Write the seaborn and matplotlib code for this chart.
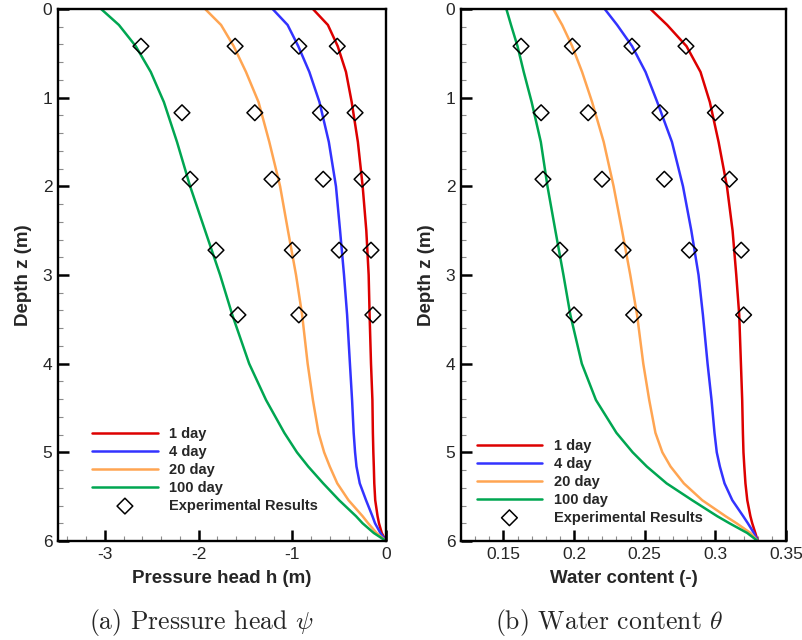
import matplotlib
matplotlib.use("Agg")
import matplotlib.pyplot as plt
from matplotlib.ticker import MultipleLocator, FuncFormatter
import seaborn as sns
import pandas as pd

# ---------------- data ----------------
series_names = ["1 day", "4 day", "20 day", "100 day"]
series_colors = ["#dd0000", "#3333ff", "#ffa552", "#00a651"]

depth = [0, 0.18, 0.42, 0.71, 1.05, 1.5, 2.0, 2.5, 3.0, 3.45, 4.0, 4.41,
         4.78, 5.0, 5.16, 5.35, 5.54, 5.72, 5.8, 5.91, 6.0]

# pressure head h (m)
h_1day = [-0.78, -0.62, -0.515, -0.427, -0.366, -0.30, -0.249, -0.21, -0.185,
          -0.175, -0.16, -0.145, -0.14, -0.135, -0.13, -0.125, -0.115, -0.09,
          -0.075, -0.045, 0.0]
h_4day = [-1.21, -1.05, -0.936, -0.818, -0.71, -0.61, -0.534, -0.49, -0.448,
          -0.415, -0.385, -0.362, -0.345, -0.33, -0.315, -0.28, -0.213, -0.145,
          -0.117, -0.06, 0.0]
h_20day = [-1.93, -1.76, -1.625, -1.494, -1.36, -1.245, -1.13, -1.046, -0.96,
           -0.895, -0.836, -0.78, -0.72, -0.66, -0.60, -0.52, -0.40, -0.25,
           -0.19, -0.10, 0.0]
h_100day = [-3.04, -2.85, -2.67, -2.51, -2.37, -2.23, -2.09, -1.93, -1.77,
            -1.64, -1.46, -1.28, -1.085, -0.95, -0.83, -0.67, -0.50, -0.32,
            -0.25, -0.13, 0.0]

# water content theta (-)
t_1day = [0.2541, 0.2659, 0.2796, 0.2895, 0.2961, 0.3023, 0.3082, 0.3122,
          0.3148, 0.3169, 0.3181, 0.3190, 0.3195, 0.3199, 0.3205, 0.3213,
          0.3226, 0.3248, 0.3261, 0.3283, 0.3300]
t_4day = [0.2217, 0.2305, 0.2411, 0.2506, 0.2589, 0.2693, 0.2771, 0.2830,
          0.2881, 0.2912, 0.2945, 0.2973, 0.2994, 0.3010, 0.3032, 0.3065,
          0.3120, 0.3197, 0.3230, 0.3273, 0.3300]
t_20day = [0.1852, 0.1916, 0.1987, 0.2057, 0.2128, 0.2210, 0.2280, 0.2340,
           0.2398, 0.2446, 0.2490, 0.2532, 0.2576, 0.2625, 0.2683, 0.2777,
           0.2907, 0.3072, 0.3150, 0.3249, 0.3300]
t_100day = [0.1521, 0.1554, 0.1600, 0.1644, 0.1700, 0.1765, 0.1812, 0.1868,
            0.1925, 0.1974, 0.2055, 0.2155, 0.2300, 0.2415, 0.2515, 0.2655,
            0.2836, 0.3013, 0.3100, 0.3226, 0.3300]

# experimental results
exp_depth = [0.42, 1.17, 1.92, 2.72, 3.45]
exp_h_1day = [-0.52, -0.33, -0.256, -0.16, -0.14]
exp_h_4day = [-0.93, -0.70, -0.67, -0.50]
exp_h_20day = [-1.61, -1.40, -1.217, -1.00, -0.93]
exp_h_100day = [-2.615, -2.177, -2.09, -1.814, -1.58]

exp_t_1day = [0.2792, 0.300, 0.310, 0.3183, 0.320]
exp_t_4day = [0.241, 0.2608, 0.2639, 0.2816]
exp_t_20day = [0.1988, 0.210, 0.2198, 0.2347, 0.2422]
exp_t_100day = [0.1625, 0.1767, 0.178, 0.190, 0.200]

x_ticks_a = [-3, -2, -1, 0]
x_ticks_b = [0.15, 0.2, 0.25, 0.3, 0.35]
y_ticks = [0, 1, 2, 3, 4, 5, 6]

# ---------------- build tables ----------------
def curve_table(vals_list):
    rows = []
    for name, vals in zip(series_names, vals_list):
        for d, v in zip(depth, vals):
            rows.append({"series": name, "depth": d, "value": v})
    return pd.DataFrame(rows)

def exp_table(vals_list):
    rows = []
    for vals in vals_list:
        for d, v in zip(exp_depth, vals):
            rows.append({"depth": d, "value": v})
    return pd.DataFrame(rows)

curves_a = curve_table([h_1day, h_4day, h_20day, h_100day])
curves_b = curve_table([t_1day, t_4day, t_20day, t_100day])
exp_a = exp_table([exp_h_1day, exp_h_4day, exp_h_20day, exp_h_100day])
exp_b = exp_table([exp_t_1day, exp_t_4day, exp_t_20day, exp_t_100day])

# ---------------- style ----------------
sns.set_style("white")
plt.rcParams["font.family"] = ["Liberation Sans", "DejaVu Sans"]
plt.rcParams["axes.unicode_minus"] = False
plt.rcParams["mathtext.fontset"] = "cm"
plt.rcParams["lines.solid_capstyle"] = "round"
plt.rcParams["lines.solid_joinstyle"] = "round"

fig = plt.figure(figsize=(8.03, 6.40), dpi=100)
ax_a = fig.add_axes([58 / 803, 99 / 640, 328 / 803, 532 / 640])
ax_b = fig.add_axes([461 / 803, 99 / 640, 325 / 803, 532 / 640])

palette = dict(zip(series_names, series_colors))


def draw(ax, curves, exp, xlim, xticks, xminor, xlabel, leg_anchor):
    sns.lineplot(data=curves, x="value", y="depth", hue="series",
                 hue_order=series_names, palette=palette, orient="y",
                 linewidth=1.8, ax=ax, legend=True, estimator=None, sort=True)
    sns.scatterplot(data=exp, x="value", y="depth", marker="D", s=64,
                    color="black", linewidth=1.1, ax=ax,
                    label="Experimental Results", zorder=5)
    coll = ax.collections[-1]
    coll.set_facecolor("none")
    coll.set_edgecolor("black")

    ax.set_xlim(*xlim)
    ax.set_ylim(6, 0)
    ax.set_xticks(xticks)
    ax.set_yticks(y_ticks)
    ax.xaxis.set_minor_locator(MultipleLocator(xminor))
    ax.yaxis.set_minor_locator(MultipleLocator(0.2))
    ax.xaxis.set_major_formatter(FuncFormatter(lambda v, p: "%g" % round(v, 4)))
    ax.yaxis.set_major_formatter(FuncFormatter(lambda v, p: "%g" % v))
    ax.tick_params(which="major", direction="in", length=8, width=1.8,
                   labelsize=12.5, pad=4, bottom=True, left=True,
                   top=False, right=False, color="black")
    ax.tick_params(which="minor", direction="in", length=3.8, width=0.8,
                   bottom=True, left=True, top=False, right=False,
                   color="#8c8c8c")
    for sp in ax.spines.values():
        sp.set_linewidth(1.7)
        sp.set_color("black")
        sp.set_visible(True)
    ax.set_xlabel(xlabel, fontsize=13.5, fontweight="bold", labelpad=6)
    ax.set_ylabel("Depth z (m)", fontsize=13.5, fontweight="bold", labelpad=8)

    handles, labels = ax.get_legend_handles_labels()
    ax.legend(handles, labels, loc="upper left", bbox_to_anchor=leg_anchor,
              frameon=False, prop={"weight": "bold", "size": 10.5},
              handlelength=4.5, handletextpad=0.8, labelspacing=0.27,
              borderpad=0, borderaxespad=0)


draw(ax_a, curves_a, exp_a, (-3.5, 0), x_ticks_a, 0.2,
     "Pressure head h (m)", (0.104, 0.214))
draw(ax_b, curves_b, exp_b, (0.12, 0.35), x_ticks_b, 0.01,
     "Water content (-)", (0.048, 0.192))

fig.text(201 / 803, 1 - 622 / 640, r"(a) Pressure head $\psi$",
         family="cmr10", fontsize=18.5, ha="center", va="center")
fig.text(609 / 803, 1 - 622 / 640, r"(b) Water content $\theta$",
         family="cmr10", fontsize=18.5, ha="center", va="center")

fig.savefig("out.png", dpi=100, facecolor="white")
